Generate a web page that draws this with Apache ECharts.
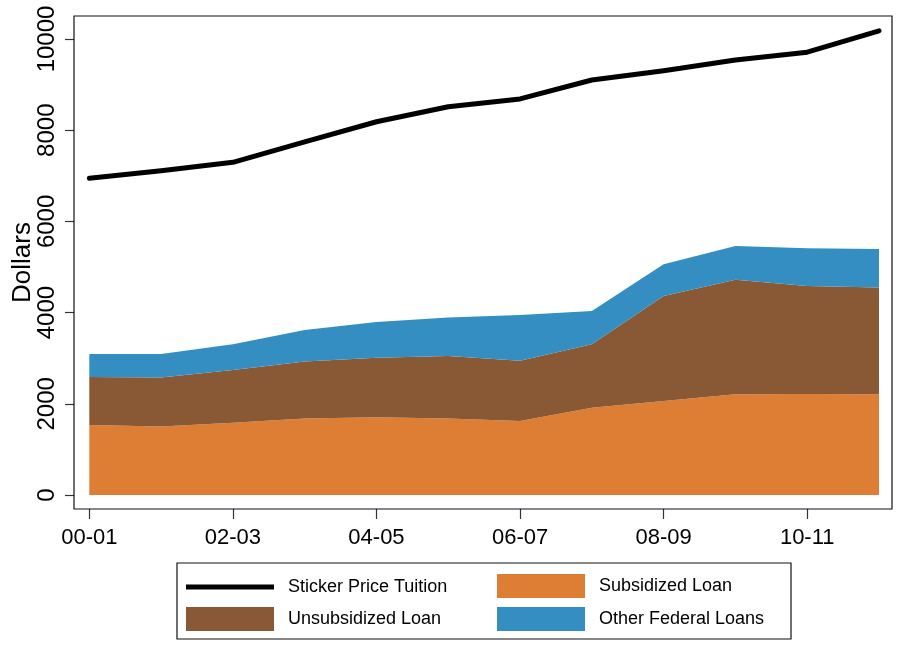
<!DOCTYPE html>
<html>
<head>
<meta charset="utf-8">
<script src="https://cdn.jsdelivr.net/npm/echarts@6/dist/echarts.min.js"></script>
<style>html,body{margin:0;padding:0;background:#fff}#c{width:899px;height:646px}</style>
</head>
<body>
<div id="c"></div>
<script>
var categories = ['00-01','01-02','02-03','03-04','04-05','05-06','06-07','07-08','08-09','09-10','10-11','11-12'];
var stickerPrice = [6945, 7110, 7295, 7745, 8185, 8515, 8685, 9100, 9305, 9540, 9710, 10180];
var subsidized = [1535, 1500, 1585, 1680, 1705, 1680, 1625, 1915, 2060, 2210, 2215, 2210];
var unsubsidized = [1055, 1075, 1155, 1245, 1305, 1370, 1320, 1390, 2305, 2510, 2370, 2340];
var otherFederal = [500, 515, 565, 695, 785, 840, 1000, 730, 695, 740, 825, 845];
var yTicks = [0, 2000, 4000, 6000, 8000, 10000];

var FONT = 'Liberation Sans, Arial, Helvetica, sans-serif';
var C_ORANGE = '#DD7E34', C_BROWN = '#885934', C_BLUE = '#348EC1';

function legendOne(name, left, top, icon, color) {
  return {left: left, top: top, orient: 'vertical', padding: 0, itemWidth: 88, itemHeight: 24, selectedMode: false,
    itemStyle: {borderWidth: 0},
    textStyle: {fontSize: 18, fontFamily: FONT, color: '#000', padding: [0,0,0,9]},
    data: [{name: name, icon: icon, itemStyle: {color: color, borderWidth: 0}}]};
}

var chart = echarts.init(document.getElementById('c'), null, {renderer:'canvas'});
chart.setOption({
  animation: false,
  backgroundColor: '#fff',
  grid: {left: 89.3, right: 20, top: 16, bottom: 137, containLabel: false, outerBoundsMode: 'none'},
  xAxis: {
    type: 'category', data: categories, boundaryGap: false,
    axisLine: {show: false, onZero: false},
    splitLine: {show: false},
    axisTick: {show: true, inside: false, length: 10, interval: 1, lineStyle: {color: '#333', width: 1.2}},
    axisLabel: {interval: 1, margin: 18, fontSize: 22, fontFamily: FONT, color: '#000'}
  },
  yAxis: {
    type: 'value', min: -307, max: 10504, offset: 15.3,
    name: 'Dollars', nameLocation: 'middle', nameGap: 38, nameRotate: 90, nameMoveOverlap: false,
    nameTextStyle: {fontSize: 26, fontFamily: FONT, color: '#000'},
    axisLine: {show: false},
    splitLine: {show: false},
    axisTick: {show: true, inside: false, length: 9, customValues: yTicks, lineStyle: {color: '#333', width: 1.2}},
    axisLabel: {customValues: yTicks, rotate: 90, margin: 15, fontSize: 24, fontFamily: FONT, color: '#000',
      formatter: function(v){ return String(v); }}
  },
  legend: [
    legendOne('Sticker Price Tuition', 186, 578, 'path://M0,0H88V5H0Z', '#000'),
    legendOne('Unsubsidized Loan', 186, 607, 'rect', C_BROWN),
    legendOne('Subsidized Loan', 497, 574, 'rect', C_ORANGE),
    legendOne('Other Federal Loans', 497, 607, 'rect', C_BLUE)
  ],
  graphic: [
    {type: 'rect', shape: {x: 74, y: 16, width: 818, height: 493}, style: {fill: 'none', stroke: '#111', lineWidth: 1.2}, z: 10},
    {type: 'rect', shape: {x: 177, y: 563, width: 614, height: 76}, style: {fill: 'none', stroke: '#111', lineWidth: 1.2}, z: 0}
  ],
  series: [
    {name: 'Subsidized Loan', type: 'line', stack: 'loans', data: subsidized, symbol: 'none',
     itemStyle: {color: C_ORANGE}, lineStyle: {width: 0, color: C_ORANGE}, areaStyle: {color: C_ORANGE, opacity: 1}, z: 2},
    {name: 'Unsubsidized Loan', type: 'line', stack: 'loans', data: unsubsidized, symbol: 'none',
     itemStyle: {color: C_BROWN}, lineStyle: {width: 0, color: C_BROWN}, areaStyle: {color: C_BROWN, opacity: 1}, z: 2},
    {name: 'Other Federal Loans', type: 'line', stack: 'loans', data: otherFederal, symbol: 'none',
     itemStyle: {color: C_BLUE}, lineStyle: {width: 0, color: C_BLUE}, areaStyle: {color: C_BLUE, opacity: 1}, z: 2},
    {name: 'Sticker Price Tuition', type: 'line', data: stickerPrice, symbol: 'none',
     itemStyle: {color: '#000'}, lineStyle: {width: 5, color: '#000', cap: 'round', join: 'round'}, z: 5}
  ]
});
</script>
</body>
</html>
